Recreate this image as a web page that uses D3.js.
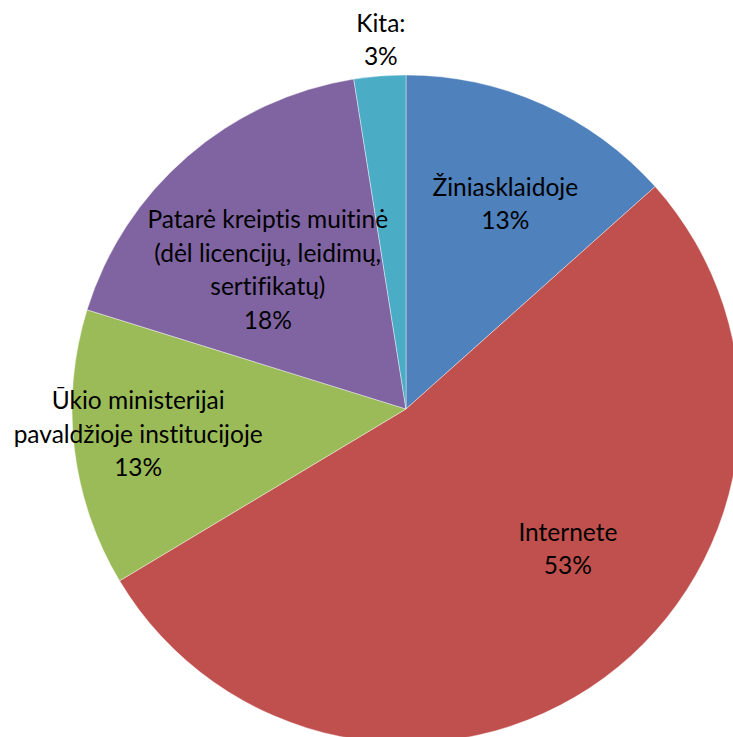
<!DOCTYPE html>
<html>
<head>
<meta charset="utf-8">
<script src="https://cdn.jsdelivr.net/npm/d3@7"></script>
<style>
  html, body { margin: 0; padding: 0; background: #fff; overflow: hidden; }
  text { font-family: Lato, "Open Sans", sans-serif; fill: #000; font-variant-ligatures: none; }
</style>
</head>
<body>
<svg id="chart"></svg>
<script>
// slice data (percent of answers)
var categories = ["Žiniasklaidoje", "Internete", "Ūkio ministerijai pavaldžioje institucijoje",
                  "Patarė kreiptis muitinė (dėl licencijų, leidimų, sertifikatų)", "Kita:"];
var values = [13.4, 53.0, 13.4, 17.7, 2.5];
var colors = ["#4F81BD", "#C0504D", "#9BBB59", "#8064A2", "#4BACC6"];

// how the labels are broken into lines (Excel wraps them)
var labelLines = [
  ["Žiniasklaidoje"],
  ["Internete"],
  ["Ūkio ministerijai", "pavaldžioje institucijoje"],
  ["Patarė kreiptis muitinė", "(dėl licencijų, leidimų,", "sertifikatų)"],
  ["Kita:"]
];
// label placement: radius and angle tweak (degrees) from slice middle
var labelRadius = [228, 214, 269, 196, 370];
var labelTurn = [1.7, -12.8, 1.5, -4, 0.6];

var width = 733, height = 737;
var cx = 406, cy = 409, radius = 334;
var lineH = 33.5;

var svg = d3.select("#chart")
  .attr("width", width)
  .attr("height", height);

var g = svg.append("g")
  .attr("transform", "translate(" + cx + "," + cy + ")");

var total = d3.sum(values);
var pie = d3.pie().sort(null).value(function(d) { return d; });
var arc = d3.arc().innerRadius(0).outerRadius(radius);
var arcs = pie(values);

g.selectAll("path.slice")
  .data(arcs).enter()
  .append("path")
    .attr("class", "slice")
    .attr("d", arc)
    .attr("fill", function(d, i) { return colors[i]; })
    .attr("stroke", "#fff")
    .attr("stroke-opacity", 0.5)
    .attr("stroke-width", 0.8);

var labels = g.selectAll("text.lbl")
  .data(arcs).enter()
  .append("text")
    .attr("class", "lbl")
    .attr("text-anchor", "middle")
    .style("font-size", "24.5px")
    .each(function(d, i) {
      var a = (d.startAngle + d.endAngle) / 2 + labelTurn[i] * Math.PI / 180;
      var x = Math.sin(a) * labelRadius[i],
          y = -Math.cos(a) * labelRadius[i];
      var lines = labelLines[i].concat([Math.round(values[i] / total * 100) + "%"]);
      var y0 = y - (lines.length - 1) * lineH / 2;
      var t = d3.select(this);
      lines.forEach(function(s, k) {
        t.append("tspan")
          .attr("x", x)
          .attr("y", y0 + k * lineH)
          .attr("dy", "0.35em")
          .text(s);
      });
    });
</script>
</body>
</html>
